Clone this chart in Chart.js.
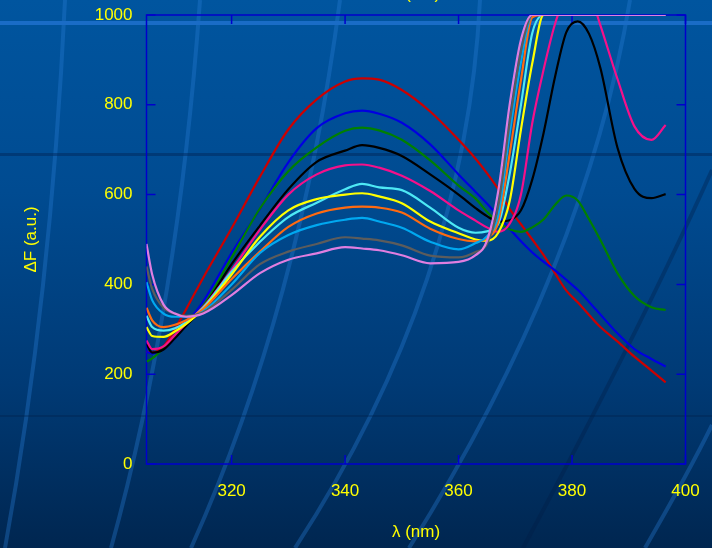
<!DOCTYPE html>
<html>
<head>
<meta charset="utf-8">
<script src="https://cdn.jsdelivr.net/npm/chart.js@4.4.1/dist/chart.umd.min.js"></script>
<style>
html, body { margin: 0; padding: 0; background: #003c78; }
#wrap { width: 712px; height: 548px; }
</style>
</head>
<body>
<div id="wrap"><canvas id="spectra" width="712" height="548"></canvas></div>
<script>
// wavelength grid (nm) shared by all spectra
const wavelengths = [305, 306, 308, 310, 312, 315, 320, 325, 330, 335, 340, 343, 346, 350, 355, 360,
    363, 365, 367, 369, 371, 373, 375, 377, 379, 381, 383, 385, 388, 391, 394, 396.5];
const xTicks = [320, 340, 360, 380, 400];

const redF     = [250, 248, 262, 300, 345, 415, 525, 640, 745, 812, 852, 859, 856, 833, 785, 722,
    680, 648, 612, 568, 534, 500, 465, 425, 386, 360, 332, 305, 273, 239, 208, 182];
const blueF    = [250, 246, 256, 280, 312, 362, 470, 568, 672, 748, 781, 787, 780, 760, 712, 645,
    606, 580, 552, 524, 496, 471, 450, 431, 410, 388, 361, 333, 291, 256, 234, 217];
const greenF   = [228, 235, 258, 285, 312, 352, 460, 569, 652, 705, 742, 749, 743, 722, 676, 620,
    591, 562, 538, 523, 517, 527, 545, 577, 598, 587, 545, 499, 425, 374, 349, 343];
const blackF   = [268, 248, 255, 280, 308, 348, 445, 531, 612, 673, 698, 710, 704, 686, 645, 600,
    570, 552, 540, 543, 565, 634, 738, 862, 962, 986, 958, 882, 705, 613, 592, 601];
const magentaF = [275, 256, 262, 287, 313, 350, 432, 522, 600, 645, 665, 667, 660, 642, 608, 565,
    542, 527, 517, 535, 600, 760, 879, 980, 1045, 1075, 1050, 977, 858, 752, 722, 755];
const cyanF    = [330, 305, 297, 302, 316, 348, 428, 495, 550, 582, 612, 624, 616, 610, 571, 526,
    515, 518, 535, 645, 800, 960, 1000, 1000, 1000, 1000, 1000, 1000, 1000, 1000, 1000, 1000];
const yellowF  = [305, 285, 283, 295, 312, 345, 422, 506, 565, 590, 600, 603, 596, 581, 540, 514,
    500, 497, 515, 585, 745, 893, 1000, 1000, 1000, 1000, 1000, 1000, 1000, 1000, 1000, 1000];
const orangeF  = [348, 320, 305, 310, 320, 345, 412, 473, 528, 558, 571, 573, 571, 560, 524, 501,
    496, 503, 540, 690, 855, 995, 1000, 1000, 1000, 1000, 1000, 1000, 1000, 1000, 1000, 1000];
const skyF     = [405, 365, 335, 328, 328, 340, 400, 470, 510, 532, 544, 548, 540, 526, 495, 478,
    492, 507, 555, 735, 895, 1000, 1000, 1000, 1000, 1000, 1000, 1000, 1000, 1000, 1000, 1000];
const grayF    = [440, 390, 348, 335, 330, 338, 388, 445, 473, 490, 505, 502, 498, 487, 464, 460,
    472, 490, 575, 760, 920, 1000, 1000, 1000, 1000, 1000, 1000, 1000, 1000, 1000, 1000, 1000];
const violetF  = [490, 422, 355, 335, 328, 335, 376, 425, 455, 469, 483, 480, 476, 465, 447, 450,
    465, 497, 608, 800, 945, 1000, 1000, 1000, 1000, 1000, 1000, 1000, 1000, 1000, 1000, 1000];

const YELLOW = '#ffff00';
const FONT = "'Liberation Sans', Arial, sans-serif";

function series(values, color) {
    return {
        data: wavelengths.map((w, i) => ({ x: w, y: values[i] })),
        borderColor: color,
        borderWidth: 2.2,
        pointRadius: 0,
        fill: false,
        cubicInterpolationMode: 'monotone'
    };
}

// slide template: gradient, bands and swoosh lines
const slideBackground = {
    id: 'slideBackground',
    beforeDraw(chart) {
        const { ctx, width, height } = chart;
        ctx.save();
        const g = ctx.createLinearGradient(0, 0, 0, height);
        g.addColorStop(0, '#00559f');
        g.addColorStop(0.35, '#004b91');
        g.addColorStop(0.7, '#003a75');
        g.addColorStop(1, '#002650');
        ctx.fillStyle = g;
        ctx.fillRect(0, 0, width, height);

        ctx.lineWidth = 4;
        ctx.strokeStyle = 'rgba(40, 125, 215, 0.35)';
        const swooshes = [
            [5, 548, 51, 296, 65, 0], [111, 548, 178, 306, 200, 0], [191, 548, 300, 306, 340, 0],
            [295, 548, 466, 286, 480, 0], [409, 548, 586, 266, 630, 0], [645, 548, 690, 470, 712, 425]
        ];
        swooshes.forEach(s => {
            ctx.beginPath(); ctx.moveTo(s[0], s[1]); ctx.quadraticCurveTo(s[2], s[3], s[4], s[5]); ctx.stroke();
        });
        ctx.strokeStyle = 'rgba(0, 30, 70, 0.35)';
        ctx.beginPath(); ctx.moveTo(523, 548); ctx.quadraticCurveTo(640, 330, 712, 170); ctx.stroke();

        ctx.fillStyle = '#1a6cc6';
        ctx.fillRect(0, 21, width, 4);
        ctx.fillStyle = 'rgba(0, 35, 85, 0.45)';
        ctx.fillRect(0, 153, width, 3);
        ctx.fillStyle = 'rgba(0, 30, 70, 0.3)';
        ctx.fillRect(0, 415, width, 2);

        // cut-off title at the very top
        ctx.fillStyle = YELLOW;
        ctx.font = '17px ' + FONT;
        ctx.textAlign = 'center';
        ctx.textBaseline = 'alphabetic';
        ctx.fillText('\u03bb (nm)', 416, -1);
        ctx.restore();
    }
};

// box frame with inward ticks
const boxFrame = {
    id: 'boxFrame',
    beforeDatasetsDraw(chart) {
        const { ctx, chartArea: a, scales } = chart;
        ctx.save();
        ctx.strokeStyle = '#0000cc';
        ctx.lineWidth = 1.5;
        ctx.strokeRect(a.left, a.top, a.right - a.left, a.bottom - a.top);
        ctx.beginPath();
        scales.x.ticks.forEach(t => {
            const px = scales.x.getPixelForValue(t.value);
            ctx.moveTo(px, a.bottom); ctx.lineTo(px, a.bottom - 9);
            ctx.moveTo(px, a.top); ctx.lineTo(px, a.top + 9);
        });
        scales.y.ticks.forEach(t => {
            const py = scales.y.getPixelForValue(t.value);
            ctx.moveTo(a.left, py); ctx.lineTo(a.left + 9, py);
            ctx.moveTo(a.right, py); ctx.lineTo(a.right - 9, py);
        });
        ctx.stroke();
        ctx.restore();
    }
};

new Chart(document.getElementById('spectra'), {
    type: 'line',
    data: {
        datasets: [
            series(violetF, '#e07ee0'),
            series(grayF, '#5c5c5c'),
            series(skyF, '#00a8f0'),
            series(orangeF, '#ff6a10'),
            series(yellowF, YELLOW),
            series(cyanF, '#4de8f5'),
            series(magentaF, '#f5108a'),
            series(blackF, '#000000'),
            series(greenF, '#008000'),
            series(blueF, '#0000e0'),
            series(redF, '#cc0000')
        ]
    },
    options: {
        responsive: false,
        animation: false,
        layout: { padding: { top: 15, right: 26.5, left: 0, bottom: 0 } },
        plugins: { legend: { display: false }, tooltip: { enabled: false } },
        scales: {
            x: {
                type: 'linear',
                min: 305,
                max: 400,
                afterBuildTicks: s => { s.ticks = xTicks.map(v => ({ value: v })); },
                afterFit: s => { s.height = 84; s.paddingLeft = 0; s.paddingRight = 0; },
                grid: { display: false, drawTicks: false },
                border: { display: false },
                ticks: { color: YELLOW, font: { family: FONT, size: 17 }, padding: 17, maxRotation: 0 },
                title: { display: true, text: '\u03bb (nm)', color: YELLOW, font: { family: FONT, size: 17 }, padding: { top: 0, bottom: 5 } }
            },
            y: {
                min: 0,
                max: 1000,
                afterFit: s => { s.width = 146.5; s.paddingTop = 0; s.paddingBottom = 0; },
                grid: { display: false, drawTicks: false },
                border: { display: false },
                ticks: { stepSize: 200, color: YELLOW, font: { family: FONT, size: 17 }, padding: 14, callback: v => String(v) },
                title: { display: true, text: '\u0394F (a.u.)', color: YELLOW, font: { family: FONT, size: 17 }, padding: { top: 21, bottom: 0 } }
            }
        }
    },
    plugins: [slideBackground, boxFrame]
});
</script>
</body>
</html>
